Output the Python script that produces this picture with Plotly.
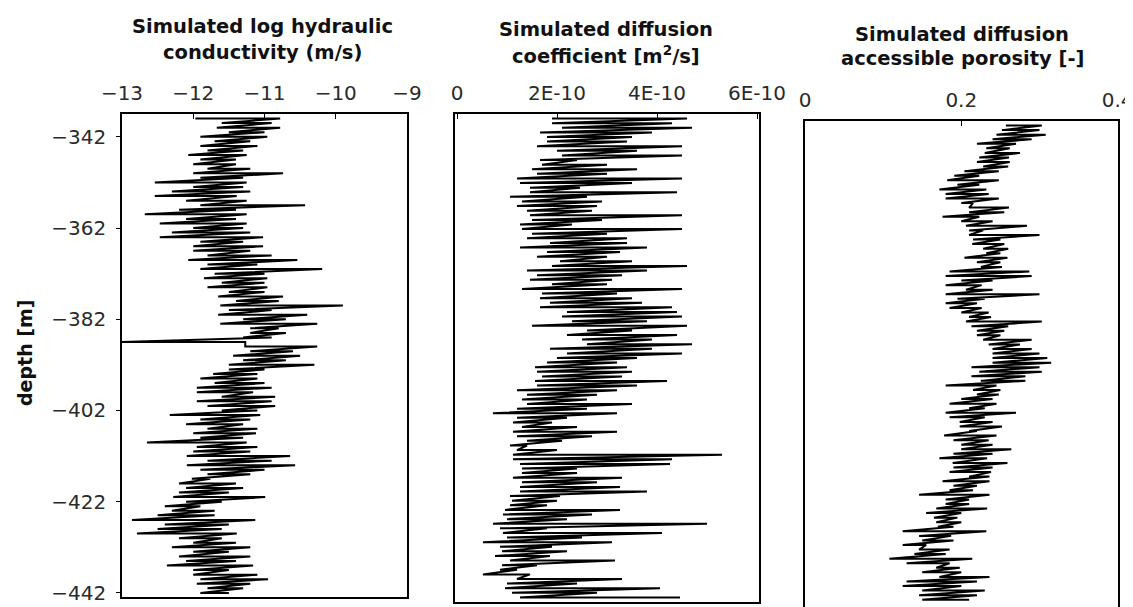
import plotly.graph_objects as go

# page body has an 8 px margin; figure sized so that it fits the 1133x607 window
OFF = 8
W, H = 1133 - OFF, 607 - OFF

# depth rows [m]
depth_m = [-338, -339, -340, -341, -342, -343, -344, -345, -346, -347,
           -348, -349, -350, -351, -352, -353, -354, -355, -356, -357,
           -358, -359, -360, -361, -362, -363, -364, -365, -366, -367,
           -368, -369, -370, -371, -372, -373, -374, -375, -376, -377,
           -378, -379, -380, -381, -382, -383, -384, -385, -386, -387,
           -388, -389, -390, -391, -392, -393, -394, -395, -396, -397,
           -398, -399, -400, -401, -402, -403, -404, -405, -406, -407,
           -408, -409, -410, -411, -412, -413, -414, -415, -416, -417,
           -418, -419, -420, -421, -422, -423, -424, -425, -426, -427,
           -428, -429, -430, -431, -432, -433, -434, -435, -436, -437,
           -438, -439, -440, -441, -442]

# Panel 1: log hydraulic conductivity, left / right excursion per depth row
logk_lo = [-11.97, -11.6, -11.67, -11.5, -11.9, -11.7, -11.9, -11.8, -12.07, -11.9,
           -12.0, -11.8, -12.0, -11.9, -12.54, -12.0, -12.3, -12.54, -12.1, -11.9,
           -12.2, -12.68, -12.1, -12.47, -12.0, -12.3, -12.47, -11.9, -12.0, -12.0,
           -11.8, -12.07, -11.8, -11.9, -11.7, -11.85, -11.6, -11.8, -11.5, -11.65,
           -11.4, -11.62, -11.5, -11.65, -11.3, -11.62, -11.2, -11.2, -11.3, -13.0,
           -11.27, -11.2, -11.44, -11.3, -11.5, -11.5, -11.72, -11.9, -11.7, -11.95,
           -11.95, -11.6, -11.95, -11.8, -11.6, -12.33, -11.9, -12.1, -11.8, -12.0,
           -11.9, -12.65, -11.95, -12.0, -12.09, -11.8, -12.09, -11.9, -11.8, -12.02,
           -12.2, -12.1, -12.2, -12.28, -12.1, -12.4, -12.3, -12.5, -12.86, -12.4,
           -12.5, -12.79, -12.2, -12.0, -12.3, -12.0, -12.2, -12.1, -12.37, -12.0,
           -12.0, -11.9, -11.95, -11.8, -11.9]
logk_hi = [-10.78, -10.9, -10.78, -11.0, -10.96, -11.2, -11.1, -11.3, -11.25, -11.4,
           -11.4, -11.2, -10.74, -11.3, -11.25, -11.3, -11.2, -11.39, -11.25, -10.43,
           -11.4, -11.25, -11.4, -11.25, -11.3, -11.2, -11.02, -11.3, -11.02, -11.2,
           -10.9, -10.54, -11.1, -10.19, -11.0, -10.96, -11.0, -10.96, -11.0, -10.74,
           -10.8, -9.9, -10.9, -10.4, -10.7, -10.26, -10.8, -10.7, -10.9, -11.27,
           -10.26, -10.6, -10.5, -10.7, -10.3, -11.0, -11.1, -11.1, -11.0, -10.9,
           -11.16, -10.85, -10.9, -10.85, -11.1, -11.06, -11.2, -11.3, -11.1, -11.12,
           -11.3, -11.25, -11.1, -11.2, -10.64, -10.9, -10.57, -11.0, -11.2, -11.76,
           -11.4, -11.3, -11.5, -10.99, -11.6, -11.9, -11.7, -11.7, -11.13, -11.5,
           -11.6, -11.39, -11.6, -11.4, -11.2, -11.5, -11.2, -11.4, -11.16, -11.5,
           -11.1, -10.95, -11.2, -11.3, -11.5]

# Panel 2: diffusion coefficient, in units of 1E-10 m2/s
de_scale = 1e-10
de_lo = [1.9, 1.9, 2.1, 1.66, 1.8, 1.8, 1.6, 2.0, 2.1, 1.66,
         1.7, 1.5, 1.6, 1.2, 1.26, 1.46, 1.46, 1.06, 1.3, 1.2,
         1.4, 1.46, 1.5, 1.26, 1.3, 1.5, 1.4, 1.86, 1.26, 1.8,
         1.6, 2.06, 1.9, 1.4, 1.6, 1.46, 1.9, 1.3, 1.7, 1.66,
         1.86, 1.66, 2.2, 2.1, 2.3, 1.5, 2.6, 2.2, 2.5, 2.6,
         1.86, 2.2, 2.0, 1.8, 1.56, 1.6, 1.7, 1.56, 1.6, 1.2,
         1.4, 1.3, 1.4, 1.2, 0.72, 1.2, 1.12, 1.3, 1.12, 1.2,
         1.4, 1.06, 1.2, 1.12, 1.12, 1.26, 1.3, 1.3, 1.12, 1.3,
         1.26, 1.26, 1.06, 1.1, 1.06, 0.96, 0.92, 1.0, 0.72, 0.86,
         0.92, 1.0, 0.52, 0.86, 0.9, 0.76, 1.06, 0.9, 0.86, 0.52,
         1.2, 1.0, 0.96, 1.1, 1.26]
de_hi = [4.6, 4.3, 4.7, 3.9, 3.5, 3.4, 4.5, 3.6, 4.5, 2.4,
         3.0, 3.6, 3.0, 4.5, 3.5, 2.46, 4.4, 2.6, 2.9, 2.8,
         2.7, 4.5, 2.9, 2.3, 4.5, 3.0, 3.4, 3.4, 3.8, 3.26,
         3.0, 3.5, 4.6, 3.8, 3.3, 3.1, 3.0, 4.5, 3.2, 3.5,
         3.7, 4.3, 4.4, 4.5, 3.8, 4.6, 3.5, 4.4, 3.9, 4.7,
         3.9, 4.5, 3.6, 3.2, 3.4, 3.5, 3.3, 4.2, 3.6, 3.2,
         2.8, 2.6, 3.5, 2.6, 3.2, 2.2, 1.9, 2.4, 3.2, 2.7,
         2.1, 1.4, 2.0, 5.3, 4.3, 4.26, 2.4, 2.4, 3.3, 2.8,
         3.26, 3.8, 2.06, 2.0, 1.8, 3.26, 2.7, 2.2, 5.0, 1.8,
         4.1, 2.5, 3.1, 1.9, 2.2, 1.86, 3.16, 1.6, 1.2, 1.46,
         3.3, 2.4, 4.06, 2.8, 4.46]

# Panel 3: diffusion accessible porosity [-]
por_lo = [0.257, 0.252, 0.245, 0.240, 0.220, 0.232, 0.230, 0.223, 0.220, 0.228,
          0.204, 0.191, 0.182, 0.195, 0.172, 0.180, 0.180, 0.200, 0.210, 0.210,
          0.176, 0.200, 0.206, 0.210, 0.210, 0.215, 0.214, 0.228, 0.232, 0.204,
          0.220, 0.225, 0.185, 0.180, 0.200, 0.180, 0.206, 0.180, 0.195, 0.180,
          0.185, 0.200, 0.210, 0.206, 0.213, 0.220, 0.220, 0.228, 0.235, 0.240,
          0.240, 0.240, 0.240, 0.213, 0.223, 0.213, 0.225, 0.180, 0.215, 0.220,
          0.200, 0.185, 0.210, 0.180, 0.185, 0.198, 0.198, 0.210, 0.178, 0.190,
          0.200, 0.200, 0.190, 0.172, 0.189, 0.190, 0.185, 0.210, 0.176, 0.190,
          0.185, 0.146, 0.180, 0.180, 0.168, 0.155, 0.165, 0.168, 0.170, 0.125,
          0.146, 0.150, 0.125, 0.146, 0.140, 0.108, 0.130, 0.168, 0.150, 0.172,
          0.130, 0.125, 0.150, 0.146, 0.150]
por_hi = [0.303, 0.300, 0.308, 0.290, 0.270, 0.262, 0.275, 0.261, 0.262, 0.260,
          0.248, 0.223, 0.248, 0.223, 0.232, 0.235, 0.248, 0.215, 0.261, 0.255,
          0.223, 0.240, 0.284, 0.228, 0.300, 0.250, 0.255, 0.260, 0.250, 0.259,
          0.250, 0.252, 0.287, 0.290, 0.240, 0.226, 0.240, 0.300, 0.230, 0.220,
          0.226, 0.235, 0.238, 0.303, 0.260, 0.255, 0.250, 0.290, 0.275, 0.290,
          0.300, 0.310, 0.315, 0.300, 0.303, 0.282, 0.282, 0.245, 0.250, 0.248,
          0.240, 0.245, 0.230, 0.270, 0.230, 0.240, 0.252, 0.220, 0.245, 0.235,
          0.240, 0.264, 0.240, 0.233, 0.259, 0.240, 0.238, 0.236, 0.236, 0.220,
          0.215, 0.236, 0.210, 0.210, 0.233, 0.200, 0.195, 0.200, 0.190, 0.232,
          0.187, 0.190, 0.155, 0.185, 0.180, 0.214, 0.185, 0.198, 0.200, 0.236,
          0.220, 0.200, 0.230, 0.220, 0.210]

# axis ticks
logk_ticks = [-13, -12, -11, -10, -9]
de_ticks = [0, 2e-10, 4e-10, 6e-10]
de_ticktext = ["0", "2E-10", "4E-10", "6E-10"]
por_ticks = [0, 0.2, 0.4]
por_ticktext = ["0", "0.2", "0.4"]
depth_ticks = [-342, -362, -382, -402, -422, -442]

titles = [["Simulated log hydraulic", "conductivity (m/s)"],
          ["Simulated diffusion", "coefficient [m<sup>2</sup>/s]"],
          ["Simulated diffusion", "accessible porosity [-]"]]


def zig(lo, hi, d, scale=1.0):
    xs, ys = [], []
    for a, b, z in zip(lo, hi, d):
        xs += [a * scale, b * scale]
        ys += [z, z]
    return xs, ys


def px_x(p):
    return (p - OFF) / W


def px_y(p):
    return max(0.0, 1 - (p - OFF) / H)


fig = go.Figure()
line = dict(color="black", width=2.0)
for (lo, hi, sc), ax in zip([(logk_lo, logk_hi, 1.0), (de_lo, de_hi, de_scale), (por_lo, por_hi, 1.0)],
                            [("x", "y"), ("x2", "y2"), ("x3", "y3")]):
    xs, ys = zig(lo, hi, depth_m, sc)
    fig.add_trace(go.Scatter(x=xs, y=ys, mode="lines", line=line, xaxis=ax[0], yaxis=ax[1],
                             showlegend=False, hoverinfo="skip"))

tickfont = dict(family="DejaVu Sans", size=20, color="#2a2a2a")
common_x = dict(side="top", ticks="inside", ticklen=5, tickcolor="black", showline=True,
                linecolor="black", linewidth=1.6, showgrid=False, zeroline=False,
                tickfont=tickfont, ticklabelstandoff=4, automargin=False,
                ticklabeloverflow="allow")
common_y = dict(showline=True, mirror=True, linecolor="black", linewidth=1.6,
                showgrid=False, zeroline=False, automargin=False)

fig.update_layout(
    width=W, height=H, margin=dict(l=0, r=0, t=0, b=0, pad=0, autoexpand=False),
    paper_bgcolor="white", plot_bgcolor="white",
    xaxis=dict(domain=[px_x(122), px_x(407)], range=[-13, -9], tickvals=logk_ticks,
               anchor="y", mirror=True, **common_x),
    yaxis=dict(domain=[px_y(597), px_y(114)], range=[-442.9, -337.0], tickvals=depth_ticks,
               ticks="outside", ticklen=4, tickcolor="black", tickfont=tickfont,
               ticklabelstandoff=6, anchor="x", **common_y),
    xaxis2=dict(domain=[px_x(455), px_x(759)], range=[-0.04e-10, 6.04e-10], tickvals=de_ticks,
                ticktext=de_ticktext, anchor="y2", mirror=True, **common_x),
    yaxis2=dict(domain=[px_y(602), px_y(114)], range=[-443.0, -337.0], showticklabels=False,
                ticks="", anchor="x2", **common_y),
    xaxis3=dict(domain=[px_x(805), px_x(1118)], range=[0, 0.4005], tickvals=por_ticks,
                ticktext=por_ticktext, anchor="y3", mirror=False, **common_x),
    yaxis3=dict(domain=[0, px_y(121)], range=[-443.6, -337.0], showticklabels=False,
                ticks="", anchor="x3", **common_y),
)

title_font = dict(family="DejaVu Sans", size=19.5, color="#111111", weight="bold")
title_pos = [(262, 27, 52), (606, 30, 55), (962, 34, 59)]
for (l1, l2), (cx, y1, y2) in zip(titles, title_pos):
    for txt, yy in ((l1, y1), (l2, y2)):
        fig.add_annotation(text=txt, x=px_x(cx), y=px_y(yy), xref="paper", yref="paper",
                           xanchor="center", yanchor="middle", showarrow=False, font=title_font)

fig.add_annotation(text="depth [m]", x=px_x(25), y=px_y(353), xref="paper", yref="paper",
                   xanchor="center", yanchor="middle", showarrow=False, textangle=-90,
                   font=dict(family="DejaVu Sans", size=19, color="#111111", weight="bold"))

fig.write_html("out.html", include_plotlyjs=True, config={"displayModeBar": False})
